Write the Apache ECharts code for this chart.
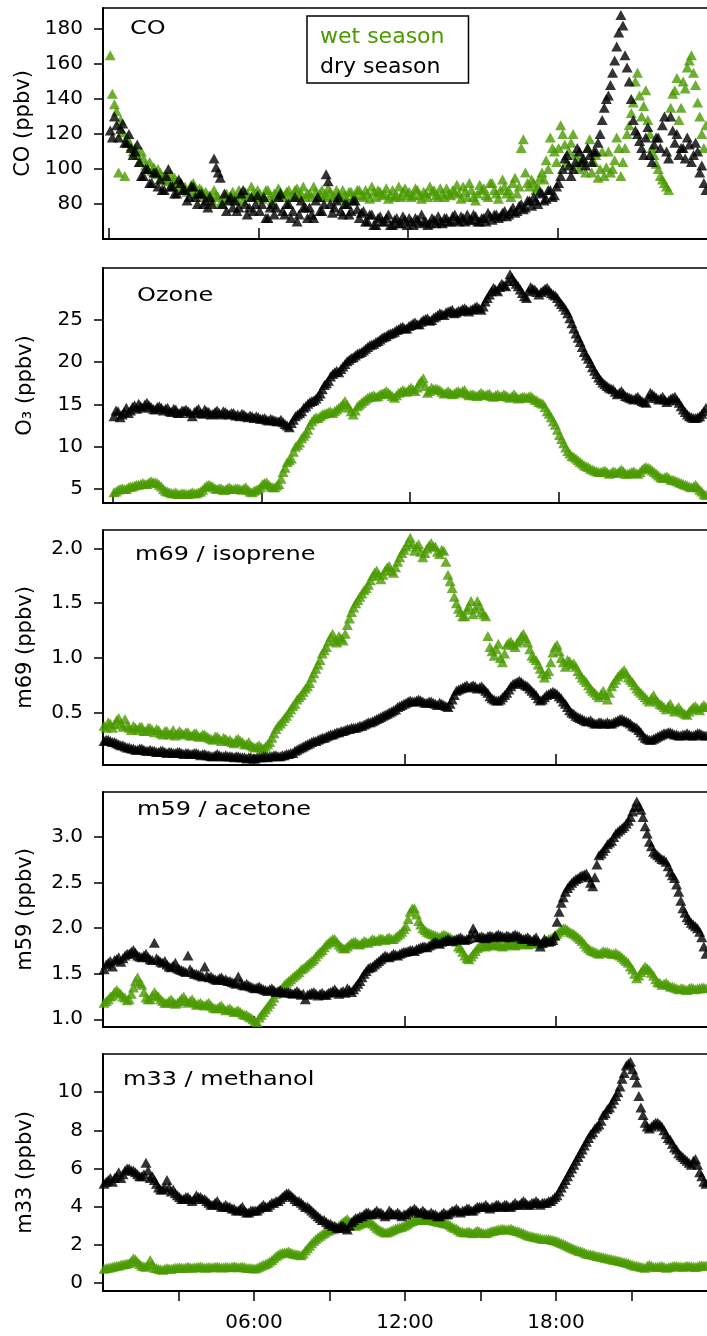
<!DOCTYPE html>
<html><head><meta charset="utf-8">
<script src="https://cdn.jsdelivr.net/npm/echarts@6/dist/echarts.min.js"></script>
<style>html,body{margin:0;padding:0;background:#fff}#c{width:707px;height:1336px}</style>
</head><body><div id="c"></div>
<script>
// sample times (hours), 5-minute bins
const times = [];
for (let i = 0; i < 288; i++) times.push((2.5 + 5 * i) / 60);

// CO (ppbv), one row per hour
const coWet = [
165,143,137,133,98,128,121,96,118,115,113,110,
112,108,104,110,106,102,100,104,99,101,97,100,
98,95,96,93,94,97,92,95,93,90,92,89,
90,87,88,91,92,86,86,89,88,84,87,85,
85,82,88,85,84,80,80,84,86,83,85,87,
84,82,88,85,82,87,86,84,90,86,84,88,
86,83,84,88,88,85,82,86,85,89,87,84,
85,87,88,84,84,88,89,85,86,90,84,86,
86,84,90,87,84,86,88,84,85,89,87,84,
84,88,86,83,88,85,83,87,87,84,85,88,
88,85,84,88,86,83,90,87,84,88,87,85,
86,89,83,85,88,84,85,90,84,87,89,85,
87,84,85,89,88,85,83,87,86,84,90,87,
88,85,84,89,86,84,89,86,85,88,87,91,
86,83,90,87,84,92,88,84,82,86,91,88,
89,85,84,92,92,88,86,83,88,94,90,86,
88,84,92,95,86,90,112,117,98,92,90,94,
92,88,90,95,98,94,105,100,118,112,110,104,
112,125,120,114,104,110,115,120,108,103,100,106,
105,98,112,117,98,104,108,95,100,110,96,101,
110,98,100,105,118,112,96,104,112,120,125,132,
138,150,155,142,130,136,145,128,120,112,108,103,
100,96,94,92,90,88,135,143,145,152,128,135,
150,146,158,162,165,155,148,138,130,120,112,125];
const coDry = [
122,118,130,125,118,123,126,115,115,120,112,108,
110,114,104,96,96,100,100,92,92,98,98,90,
94,88,88,96,100,90,90,86,86,94,92,88,
88,82,84,90,90,84,80,86,86,80,82,78,
84,80,106,101,98,95,80,86,76,82,84,78,
82,76,78,86,88,80,74,78,84,76,80,85,
76,80,84,72,72,78,80,74,78,84,86,76,
74,80,80,72,76,84,70,74,82,78,78,72,
78,74,72,82,84,76,76,80,97,93,80,75,
78,82,84,76,74,80,80,74,76,82,82,77,
72,75,76,70,70,74,74,68,68,72,73,70,
70,72,74,68,68,71,72,69,69,73,71,68,
72,70,68,72,71,69,74,70,70,68,69,72,
71,69,73,70,69,72,72,70,70,73,74,71,
70,73,72,70,74,71,71,74,73,70,70,72,
72,70,75,73,71,74,74,72,73,75,76,73,
74,76,78,75,76,79,80,77,78,82,82,79,
84,82,80,87,86,82,83,88,88,84,85,90,
92,96,100,106,108,102,96,100,104,112,110,104,
106,102,112,108,104,110,110,115,120,128,135,140,
142,148,155,162,170,178,188,182,165,158,150,140,
128,122,120,116,112,108,118,124,108,104,114,118,
118,112,125,130,110,106,130,122,115,120,108,112,
112,106,118,114,104,108,115,110,98,102,92,88];

// Ozone (ppbv)
const o3Wet = [
4.6,4.7,4.9,5.0,5.1,5.0,5.0,5.2,5.3,5.3,5.4,5.5,
5.5,5.6,5.7,5.6,5.6,5.8,5.9,5.8,5.8,5.7,5.5,5.3,
5.0,4.8,4.7,4.6,4.5,4.5,4.6,4.4,4.4,4.5,4.5,4.4,
4.4,4.5,4.6,4.5,4.5,4.6,4.7,4.9,5.2,5.4,5.5,5.4,
5.3,5.1,5.0,5.1,5.1,4.9,4.9,5.1,5.2,5.0,5.0,5.1,
5.1,5.0,4.9,5.1,5.2,4.9,4.7,4.6,4.8,4.9,5.0,5.2,
5.6,5.7,5.8,5.5,5.3,5.2,5.2,5.4,5.6,6.2,7.0,7.5,
8.2,8.4,8.6,9.4,10.0,10.2,10.5,11.0,11.3,11.6,12.0,12.6,
13.0,13.3,13.5,13.4,13.6,13.8,13.9,14.0,14.1,14.2,14.0,14.2,
14.4,14.6,14.8,15.1,15.4,15.0,14.6,14.2,13.8,14.3,14.8,15.0,
15.2,15.4,15.6,15.8,15.9,16.0,16.1,15.9,16.0,16.2,16.3,16.4,
16.6,16.4,16.2,16.0,15.8,16.1,16.4,16.5,16.7,16.6,16.5,16.8,
17.0,16.8,16.6,17.0,17.5,17.8,18.1,17.2,16.4,16.6,17.0,16.8,
16.9,16.8,16.7,16.5,16.3,16.4,16.6,16.4,16.2,16.3,16.5,16.6,
16.4,16.6,16.7,16.3,16.1,16.2,16.2,16.1,16.0,16.2,16.4,16.2,
16.1,16.2,16.3,16.0,15.9,16.1,16.2,16.0,16.0,16.2,16.1,15.9,
15.8,16.0,16.2,15.9,15.7,15.8,15.9,15.9,15.8,15.9,16.0,15.8,
15.6,15.5,15.3,15.2,15.1,14.7,14.2,13.9,13.5,13.0,12.6,12.0,
11.4,10.9,10.4,9.9,9.5,9.2,8.9,8.8,8.6,8.4,8.2,8.0,
7.8,7.7,7.6,7.4,7.3,7.2,7.1,7.0,7.0,7.1,7.2,7.0,
6.8,6.9,7.1,7.0,6.9,7.1,7.3,7.1,6.8,6.8,6.9,7.0,
7.1,6.9,6.8,7.0,7.3,7.5,7.6,7.5,7.4,7.2,7.0,6.8,
6.6,6.4,6.3,6.4,6.5,6.3,6.1,6.1,6.0,5.9,5.8,5.7,
5.6,5.5,5.4,5.3,5.2,5.3,5.5,5.2,4.9,4.7,4.4,4.3];
const o3Dry = [
13.6,14.3,14.2,13.5,13.8,14.1,14.6,14.0,14.3,14.7,14.9,14.5,
15.1,14.8,14.6,15.0,15.2,14.9,14.7,14.5,14.4,14.7,14.8,14.6,
14.3,14.5,14.6,14.2,14.1,14.5,14.4,14.0,14.0,14.3,14.3,14.4,
14.2,14.0,13.6,14.1,14.3,14.5,14.0,13.9,14.4,14.2,14.1,13.8,
13.9,14.1,14.3,14.0,13.8,14.2,14.1,13.9,13.8,14.0,14.0,13.7,
13.8,13.6,13.9,13.8,13.6,13.5,13.7,13.6,13.4,13.6,13.5,13.3,
13.3,13.4,13.2,13.1,13.3,13.2,13.1,13.0,13.0,13.2,12.9,12.7,
12.5,12.3,12.8,13.2,13.6,13.8,14.0,14.2,14.6,14.8,15.1,15.3,
15.4,15.5,15.7,16.0,16.3,16.8,17.3,17.5,17.8,18.3,18.6,18.8,
19.0,18.8,19.2,19.5,19.8,20.1,20.3,20.5,20.6,20.8,21.0,21.1,
21.2,21.4,21.6,21.8,22.0,22.1,22.2,22.4,22.5,22.7,22.9,23.0,
23.1,23.3,23.4,23.5,23.6,23.8,23.9,24.1,24.2,24.0,24.0,24.3,
24.4,24.6,24.7,24.5,24.5,24.8,25.0,25.1,25.2,24.9,25.0,25.3,
25.4,25.6,25.8,25.7,25.6,25.9,26.0,26.1,26.2,25.8,25.9,26.1,
26.1,26.3,26.4,26.2,26.0,26.2,26.3,26.5,26.6,26.4,26.2,26.6,
27.2,27.6,28.0,28.4,28.8,28.6,28.4,28.9,29.3,29.1,29.0,29.6,
30.4,30.0,29.6,29.3,29.0,28.6,28.2,27.8,27.6,28.4,28.9,28.7,
28.6,28.3,28.0,28.3,28.5,28.7,28.8,28.5,28.2,28.0,27.9,27.6,
27.2,26.9,26.6,26.2,25.8,25.2,24.6,24.0,23.4,22.9,22.4,21.8,
21.2,20.8,20.4,19.9,19.4,19.0,18.6,18.2,17.9,17.6,17.4,17.2,
17.0,16.9,16.8,16.5,16.2,16.4,16.6,16.3,16.0,15.9,15.8,15.7,
15.6,15.8,15.9,15.6,15.4,15.3,15.2,15.8,16.4,16.2,16.0,15.8,
15.6,15.7,15.9,15.6,15.3,15.5,15.7,15.8,15.9,15.5,15.2,14.8,
14.4,14.1,13.8,13.6,13.5,13.4,13.4,13.5,13.6,13.9,14.2,14.6];

// m69 / isoprene (ppbv)
const isoWet = [
0.38,0.36,0.41,0.40,0.36,0.39,0.43,0.45,0.40,0.37,0.44,0.38,
0.36,0.34,0.38,0.36,0.34,0.37,0.37,0.33,0.33,0.36,0.36,0.34,
0.32,0.35,0.34,0.31,0.30,0.33,0.33,0.30,0.31,0.34,0.29,0.31,
0.33,0.31,0.30,0.32,0.32,0.29,0.29,0.31,0.31,0.28,0.28,0.30,
0.30,0.28,0.27,0.26,0.25,0.28,0.28,0.26,0.24,0.27,0.26,0.24,
0.25,0.23,0.22,0.25,0.26,0.24,0.23,0.21,0.21,0.23,0.20,0.19,
0.18,0.19,0.20,0.18,0.17,0.19,0.21,0.23,0.27,0.31,0.35,0.38,
0.40,0.42,0.45,0.47,0.50,0.53,0.56,0.58,0.62,0.64,0.66,0.69,
0.72,0.74,0.77,0.82,0.86,0.90,0.94,0.98,1.04,1.07,1.10,1.15,
1.19,1.22,1.16,1.14,1.20,1.18,1.16,1.22,1.30,1.36,1.42,1.46,
1.50,1.53,1.56,1.59,1.62,1.64,1.67,1.71,1.75,1.78,1.80,1.76,
1.72,1.76,1.80,1.83,1.84,1.80,1.78,1.83,1.88,1.92,1.96,1.99,
2.02,2.06,2.10,2.04,1.98,2.02,2.04,1.97,1.92,1.96,2.00,2.03,
2.05,2.02,2.02,1.97,1.95,1.99,1.98,1.88,1.76,1.70,1.64,1.56,
1.50,1.45,1.42,1.38,1.38,1.44,1.47,1.52,1.40,1.45,1.52,1.48,
1.42,1.40,1.38,1.20,1.10,1.06,1.02,1.08,1.13,1.00,0.96,1.04,
1.12,1.14,1.15,1.12,1.10,1.14,1.16,1.20,1.22,1.18,1.14,1.08,
1.02,1.00,0.98,0.94,0.90,0.86,0.82,0.85,0.88,0.96,1.05,1.10,
1.12,1.06,1.00,0.96,0.92,0.98,0.97,0.94,0.95,0.92,0.88,0.85,
0.82,0.80,0.78,0.75,0.72,0.70,0.68,0.66,0.64,0.67,0.70,0.66,
0.62,0.68,0.74,0.77,0.80,0.83,0.85,0.87,0.89,0.86,0.82,0.80,
0.78,0.75,0.72,0.70,0.68,0.66,0.64,0.62,0.60,0.63,0.66,0.62,
0.60,0.58,0.57,0.55,0.53,0.56,0.58,0.54,0.51,0.53,0.55,0.52,
0.50,0.49,0.48,0.51,0.53,0.55,0.56,0.54,0.52,0.55,0.57,0.55];
const isoDry = [
0.24,0.25,0.25,0.24,0.23,0.23,0.22,0.21,0.20,0.20,0.19,0.18,
0.18,0.17,0.17,0.16,0.16,0.17,0.17,0.16,0.15,0.15,0.16,0.15,
0.15,0.14,0.14,0.15,0.15,0.14,0.13,0.14,0.14,0.13,0.13,0.14,
0.14,0.13,0.12,0.13,0.13,0.12,0.12,0.13,0.13,0.12,0.11,0.12,
0.12,0.11,0.11,0.10,0.10,0.11,0.12,0.11,0.10,0.10,0.11,0.10,
0.10,0.10,0.09,0.10,0.10,0.09,0.09,0.09,0.08,0.09,0.09,0.08,
0.08,0.09,0.09,0.09,0.10,0.10,0.09,0.10,0.10,0.11,0.11,0.10,
0.10,0.11,0.11,0.12,0.12,0.13,0.13,0.15,0.16,0.17,0.18,0.19,
0.20,0.21,0.22,0.23,0.24,0.24,0.25,0.26,0.27,0.27,0.28,0.29,
0.30,0.30,0.31,0.32,0.32,0.33,0.33,0.34,0.35,0.35,0.36,0.36,
0.36,0.37,0.38,0.38,0.39,0.40,0.41,0.41,0.42,0.43,0.44,0.45,
0.46,0.47,0.48,0.49,0.50,0.51,0.52,0.53,0.55,0.56,0.57,0.58,
0.59,0.60,0.61,0.60,0.60,0.61,0.62,0.61,0.60,0.59,0.59,0.60,
0.60,0.59,0.58,0.57,0.59,0.58,0.57,0.56,0.55,0.58,0.62,0.66,
0.70,0.71,0.72,0.73,0.74,0.75,0.73,0.74,0.75,0.74,0.72,0.73,
0.74,0.72,0.70,0.68,0.65,0.63,0.62,0.61,0.61,0.62,0.64,0.66,
0.68,0.71,0.74,0.76,0.77,0.78,0.79,0.78,0.76,0.75,0.74,0.72,
0.70,0.68,0.66,0.63,0.61,0.62,0.64,0.66,0.67,0.68,0.69,0.68,
0.67,0.65,0.63,0.60,0.58,0.55,0.52,0.50,0.49,0.47,0.46,0.45,
0.44,0.43,0.42,0.42,0.43,0.41,0.40,0.40,0.41,0.41,0.40,0.40,
0.41,0.40,0.40,0.41,0.42,0.43,0.44,0.44,0.43,0.42,0.41,0.40,
0.38,0.37,0.36,0.34,0.32,0.29,0.27,0.26,0.25,0.25,0.26,0.27,
0.28,0.29,0.30,0.31,0.31,0.32,0.32,0.31,0.30,0.30,0.29,0.29,
0.30,0.30,0.31,0.30,0.29,0.29,0.30,0.31,0.31,0.30,0.29,0.29];

// m59 / acetone (ppbv)
const aceWet = [
1.18,1.20,1.22,1.25,1.26,1.30,1.32,1.30,1.28,1.25,1.24,1.21,
1.22,1.28,1.35,1.42,1.46,1.40,1.38,1.30,1.24,1.22,1.22,1.26,
1.30,1.27,1.25,1.22,1.20,1.18,1.18,1.20,1.22,1.19,1.17,1.18,
1.20,1.23,1.25,1.21,1.18,1.20,1.22,1.19,1.16,1.17,1.18,1.16,
1.15,1.17,1.18,1.15,1.13,1.12,1.12,1.14,1.15,1.12,1.10,1.11,
1.12,1.10,1.08,1.09,1.10,1.08,1.06,1.05,1.05,1.03,1.02,1.00,
0.98,0.97,1.02,1.05,1.08,1.11,1.14,1.17,1.20,1.24,1.28,1.30,
1.32,1.35,1.38,1.40,1.42,1.44,1.46,1.48,1.50,1.52,1.55,1.56,
1.58,1.60,1.62,1.64,1.66,1.69,1.72,1.74,1.76,1.79,1.82,1.84,
1.86,1.88,1.88,1.85,1.82,1.80,1.78,1.78,1.80,1.82,1.84,1.85,
1.85,1.83,1.82,1.84,1.86,1.85,1.84,1.86,1.88,1.87,1.86,1.88,
1.89,1.88,1.87,1.89,1.90,1.88,1.88,1.90,1.92,1.94,1.96,1.99,
2.02,2.10,2.18,2.22,2.22,2.15,2.08,2.04,2.00,1.98,1.96,1.95,
1.94,1.93,1.92,1.91,1.90,1.92,1.93,1.92,1.91,1.90,1.88,1.87,
1.85,1.80,1.78,1.74,1.70,1.67,1.66,1.69,1.72,1.75,1.78,1.80,
1.82,1.81,1.80,1.82,1.84,1.82,1.81,1.82,1.83,1.81,1.80,1.81,
1.82,1.83,1.84,1.82,1.81,1.82,1.83,1.84,1.85,1.83,1.82,1.83,
1.84,1.85,1.86,1.84,1.83,1.84,1.85,1.86,1.88,1.89,1.90,1.92,
1.94,1.96,1.98,2.00,2.00,1.98,1.96,1.95,1.94,1.92,1.90,1.88,
1.86,1.83,1.80,1.78,1.76,1.75,1.74,1.73,1.72,1.73,1.75,1.74,
1.74,1.73,1.72,1.72,1.73,1.71,1.70,1.68,1.66,1.64,1.62,1.58,
1.55,1.50,1.45,1.48,1.52,1.55,1.58,1.56,1.54,1.51,1.48,1.44,
1.41,1.40,1.38,1.39,1.40,1.38,1.36,1.36,1.35,1.34,1.33,1.34,
1.34,1.33,1.32,1.34,1.35,1.34,1.33,1.34,1.34,1.35,1.35,1.34];
const aceDry = [
1.55,1.60,1.62,1.64,1.58,1.65,1.66,1.68,1.63,1.67,1.70,1.72,
1.72,1.74,1.76,1.73,1.70,1.69,1.68,1.70,1.72,1.68,1.66,1.65,
1.84,1.67,1.65,1.63,1.62,1.64,1.60,1.58,1.57,1.59,1.62,1.56,
1.55,1.54,1.53,1.52,1.70,1.55,1.52,1.50,1.50,1.49,1.48,1.47,
1.58,1.48,1.46,1.47,1.45,1.44,1.43,1.45,1.46,1.43,1.44,1.42,
1.42,1.41,1.40,1.39,1.47,1.40,1.38,1.37,1.39,1.37,1.36,1.35,
1.34,1.35,1.36,1.34,1.33,1.32,1.31,1.33,1.34,1.32,1.30,1.31,
1.32,1.30,1.29,1.30,1.30,1.29,1.28,1.29,1.31,1.29,1.27,1.28,
1.22,1.27,1.28,1.29,1.30,1.28,1.26,1.28,1.29,1.27,1.27,1.29,
1.30,1.31,1.33,1.30,1.28,1.30,1.31,1.29,1.34,1.32,1.30,1.33,
1.36,1.39,1.42,1.46,1.50,1.53,1.56,1.57,1.58,1.60,1.62,1.64,
1.66,1.68,1.70,1.69,1.68,1.70,1.72,1.71,1.70,1.72,1.73,1.74,
1.74,1.75,1.76,1.76,1.75,1.77,1.78,1.79,1.80,1.80,1.79,1.81,
1.82,1.84,1.85,1.84,1.83,1.85,1.86,1.87,1.88,1.87,1.86,1.87,
1.88,1.89,1.90,1.88,1.87,1.88,1.89,1.93,2.00,1.95,1.90,1.90,
1.91,1.90,1.89,1.91,1.92,1.91,1.90,1.92,1.93,1.92,1.91,1.90,
1.92,1.91,1.90,1.92,1.93,1.92,1.91,1.89,1.88,1.89,1.90,1.88,
1.86,1.88,1.90,1.86,1.80,1.84,1.88,1.86,1.85,1.86,1.87,1.92,
2.07,2.18,2.28,2.34,2.40,2.44,2.47,2.50,2.52,2.54,2.55,2.57,
2.58,2.59,2.60,2.56,2.50,2.46,2.56,2.70,2.80,2.82,2.85,2.88,
2.92,2.94,2.96,3.00,3.04,3.06,3.08,3.10,3.12,3.15,3.18,3.22,
3.28,3.33,3.39,3.34,3.30,3.22,3.12,3.04,2.95,2.90,2.84,2.82,
2.80,2.78,2.76,2.75,2.73,2.68,2.62,2.58,2.55,2.48,2.40,2.30,
2.22,2.17,2.12,2.09,2.06,2.04,2.02,2.00,1.96,1.90,1.80,1.72];

// m33 / methanol (ppbv)
const methWet = [
0.75,0.78,0.80,0.82,0.85,0.88,0.90,0.92,0.95,0.98,1.00,1.02,
1.05,1.15,1.30,1.25,1.10,1.00,0.90,0.88,0.85,0.95,1.20,1.00,
0.80,0.78,0.75,0.72,0.70,0.74,0.78,0.76,0.74,0.77,0.80,0.81,
0.82,0.80,0.78,0.82,0.85,0.83,0.80,0.82,0.83,0.85,0.86,0.84,
0.80,0.82,0.84,0.83,0.82,0.85,0.86,0.84,0.81,0.83,0.85,0.84,
0.83,0.85,0.88,0.85,0.82,0.84,0.86,0.83,0.80,0.79,0.78,0.77,
0.76,0.80,0.85,0.90,0.95,1.00,1.05,1.12,1.20,1.30,1.40,1.48,
1.55,1.58,1.60,1.63,1.65,1.60,1.55,1.52,1.50,1.48,1.45,1.55,
1.70,1.82,1.95,2.08,2.20,2.30,2.40,2.48,2.55,2.62,2.70,2.75,
2.80,2.82,2.85,2.92,3.00,3.10,3.20,3.28,3.35,3.22,3.10,3.05,
3.00,3.05,3.10,3.15,3.20,3.22,3.25,3.18,3.10,3.00,2.90,2.82,
2.75,2.70,2.65,2.66,2.70,2.75,2.80,2.85,2.90,2.92,2.95,3.00,
3.05,3.12,3.20,3.25,3.30,3.32,3.35,3.32,3.30,3.33,3.35,3.32,
3.30,3.28,3.25,3.22,3.20,3.18,3.15,3.12,3.10,3.02,2.95,2.90,
2.85,2.78,2.70,2.68,2.65,2.68,2.70,2.65,2.60,2.68,2.75,2.70,
2.65,2.62,2.60,2.65,2.70,2.72,2.75,2.78,2.80,2.82,2.85,2.82,
2.80,2.82,2.85,2.80,2.75,2.72,2.70,2.65,2.60,2.55,2.50,2.48,
2.45,2.42,2.40,2.38,2.35,2.32,2.30,2.30,2.30,2.28,2.25,2.22,
2.20,2.15,2.10,2.05,2.00,1.95,1.90,1.85,1.80,1.75,1.70,1.68,
1.65,1.60,1.55,1.52,1.50,1.48,1.45,1.42,1.40,1.38,1.35,1.32,
1.30,1.28,1.25,1.22,1.20,1.18,1.15,1.12,1.10,1.08,1.05,1.00,
0.95,0.92,0.90,0.88,0.85,0.82,0.80,0.90,0.95,0.90,0.85,0.85,
0.85,0.88,0.90,0.85,0.80,0.82,0.85,0.88,0.90,0.89,0.88,0.86,
0.85,0.88,0.90,0.89,0.88,0.86,0.84,0.88,0.92,0.91,0.90,0.92];
const methDry = [
5.2,5.3,5.4,5.5,5.3,5.5,5.6,5.8,5.5,5.7,5.9,6.0,
6.0,5.9,5.9,5.8,5.7,5.6,5.6,5.7,6.3,5.9,5.5,5.6,
5.4,5.2,5.0,4.9,4.9,5.0,5.4,5.0,4.8,4.9,4.7,4.6,
4.5,4.4,4.4,4.5,4.5,4.4,4.3,4.4,4.6,4.5,4.5,4.4,
4.4,4.3,4.2,4.1,4.1,4.2,4.3,4.1,4.0,4.0,4.1,4.0,
4.0,3.9,3.9,3.8,3.8,3.9,4.0,3.8,3.7,3.7,3.8,3.8,
3.8,3.8,3.9,4.0,4.1,4.0,4.0,4.1,4.2,4.2,4.3,4.3,
4.4,4.5,4.6,4.7,4.7,4.6,4.5,4.4,4.3,4.3,4.2,4.1,
4.0,4.0,3.9,3.8,3.7,3.6,3.5,3.4,3.3,3.3,3.2,3.1,
3.1,3.0,3.0,2.9,2.9,3.0,3.0,2.9,2.8,3.0,3.2,3.3,
3.4,3.4,3.5,3.5,3.6,3.7,3.7,3.6,3.6,3.7,3.8,3.7,
3.7,3.6,3.5,3.6,3.8,3.7,3.6,3.6,3.7,3.6,3.5,3.6,
3.6,3.7,3.8,3.8,3.9,3.8,3.7,3.7,3.8,3.7,3.6,3.6,
3.7,3.6,3.6,3.5,3.5,3.6,3.7,3.6,3.6,3.7,3.8,3.8,
3.9,3.8,3.7,3.8,3.8,3.9,3.9,3.8,3.8,3.9,4.0,4.0,
4.0,4.0,4.1,4.0,3.9,4.0,4.0,4.1,4.1,4.0,4.0,4.1,
4.1,4.0,4.0,4.1,4.2,4.1,4.1,4.2,4.3,4.2,4.1,4.1,
4.2,4.2,4.3,4.2,4.1,4.2,4.2,4.2,4.3,4.3,4.4,4.5,
4.6,4.8,5.0,5.2,5.4,5.6,5.8,6.0,6.2,6.4,6.6,6.8,
7.0,7.2,7.4,7.6,7.8,7.9,8.1,8.2,8.3,8.5,8.8,8.9,
9.1,9.2,9.4,9.6,9.8,10.0,10.3,10.7,11.0,11.4,11.5,11.6,
11.2,10.9,10.5,9.8,9.2,8.8,8.4,8.2,8.1,8.2,8.3,8.4,
8.4,8.3,8.2,8.0,7.8,7.6,7.5,7.3,7.1,7.0,6.8,6.7,
6.6,6.5,6.4,6.3,6.2,6.4,6.5,6.2,5.8,5.6,5.3,5.2];

const seasons = ['wet season', 'dry season'];
const panelLabels = ['CO', 'Ozone', 'm69 / isoprene', 'm59 / acetone', 'm33 / methanol'];
const yNames = ['CO (ppbv)', 'O\u2083 (ppbv)', 'm69 (ppbv)', 'm59 (ppbv)', 'm33 (ppbv)'];
const yTicks = [[80,100,120,140,160,180],[5,10,15,20,25],[0.5,1.0,1.5,2.0],[1.0,1.5,2.0,2.5,3.0],[0,2,4,6,8,10]];
const yDecimals = [0,0,1,1,0];
const xTickHoursTop = [[0,6,12,18],[0,6,12,18],[6,12,18],[6,12,18]];
const xTickHoursBottom = [3,6,9,12,15,18,21];
const xLabelHours = [6,12,18];
const xLabels = ['06:00','12:00','18:00'];

const wetData = [coWet, o3Wet, isoWet, aceWet, methWet];
const dryData = [coDry, o3Dry, isoDry, aceDry, methDry];

// layout (styles)
const GREEN = '#4a9a00';
const FONT = 'DejaVu Sans';
const grids = [
  {top: 8, height: 231}, {top: 268, height: 235}, {top: 530, height: 235},
  {top: 792, height: 235}, {top: 1054, height: 237}];
const yRanges = [[60,192],[3.34,31.15],[0.02,2.17],[0.915,3.495],[-0.42,12.0]];
const xRanges = [[-0.25,24],[-0.4,24],[0,24],[0,24],[0,24]];
const labelPos = [[130,29],[137,296],[135,555],[137,810],[123,1080]];

const option = {
  animation: false,
  backgroundColor: '#fff',
  textStyle: {fontFamily: FONT},
  grid: grids.map(g => ({left: 103, right: 0, top: g.top, height: g.height})),
  xAxis: [],
  yAxis: [],
  series: [],
  legend: {
    left: 307, top: 16, orient: 'vertical',
    padding: [10, 24, 5, 7],
    itemWidth: 1, itemHeight: 22, itemGap: 8,
    icon: 'rect',
    itemStyle: {opacity: 0},
    borderColor: '#000', borderWidth: 1.5, backgroundColor: '#fff',
    selectedMode: false,
    textStyle: {fontFamily: FONT, fontSize: 22, lineHeight: 22},
    data: [
      {name: seasons[0], textStyle: {color: GREEN}},
      {name: seasons[1], textStyle: {color: '#000'}}
    ]
  },
  graphic: panelLabels.map((t, i) => ({
    type: 'text', x: labelPos[i][0], y: labelPos[i][1], scaleX: 1.2,
    style: {text: t, fill: '#000', fontFamily: FONT, fontSize: 20, align: 'left', verticalAlign: 'middle'}
  }))
};

for (let p = 0; p < 5; p++) {
  const bottom = p === 4;
  option.xAxis.push({
    type: 'value', gridIndex: p, min: xRanges[p][0], max: xRanges[p][1],
    axisLine: {show: true, onZero: false, lineStyle: {color: '#000', width: 2}},
    splitLine: {show: false},
    axisTick: bottom
      ? {show: true, inside: false, length: 10, lineStyle: {color: '#000', width: 1.5}, customValues: xTickHoursBottom}
      : {show: true, inside: true, length: 11, lineStyle: {color: '#000', width: 1.5}, customValues: xTickHoursTop[p]},
    axisLabel: bottom
      ? {show: true, customValues: xLabelHours, margin: 22, color: '#000', fontFamily: FONT, fontSize: 20,
         formatter: v => xLabels[xLabelHours.indexOf(Math.round(v))] || ''}
      : {show: false}
  });
  option.yAxis.push({
    type: 'value', gridIndex: p, min: yRanges[p][0], max: yRanges[p][1],
    name: yNames[p], nameLocation: 'middle', nameGap: 67,
    nameTextStyle: {fontFamily: FONT, fontSize: 21, color: '#000'},
    axisLine: {show: true, onZero: false, lineStyle: {color: '#000', width: 2}},
    splitLine: {show: false},
    axisTick: {show: true, inside: false, length: 9, lineStyle: {color: '#000', width: 1.5}, customValues: yTicks[p]},
    axisLabel: {show: true, customValues: yTicks[p], margin: 20, color: '#000', fontFamily: FONT, fontSize: 20,
      formatter: v => Number(v).toFixed(yDecimals[p])}
  });
}
// top frame lines
for (let p = 0; p < 5; p++) {
  option.xAxis.push({
    type: 'value', gridIndex: p, position: 'top', min: xRanges[p][0], max: xRanges[p][1],
    axisLine: {show: true, onZero: false, lineStyle: {color: '#000', width: 1.5}},
    axisTick: {show: false}, axisLabel: {show: false}, splitLine: {show: false}
  });
}
for (let p = 0; p < 5; p++) {
  option.series.push({
    name: seasons[0], type: 'scatter', xAxisIndex: p, yAxisIndex: p,
    symbol: 'triangle', symbolSize: [11, 10], itemStyle: {color: GREEN}, z: 2,
    data: times.map((t, i) => [t, wetData[p][i]])
  });
  option.series.push({
    name: seasons[1], type: 'scatter', xAxisIndex: p, yAxisIndex: p,
    symbol: 'triangle', symbolSize: [11, 10], itemStyle: {color: '#000'}, z: 3,
    data: times.map((t, i) => [t, dryData[p][i]])
  });
}

const chart = echarts.init(document.getElementById('c'), null, {renderer: 'canvas'});
chart.setOption(option);
</script>
</body></html>
